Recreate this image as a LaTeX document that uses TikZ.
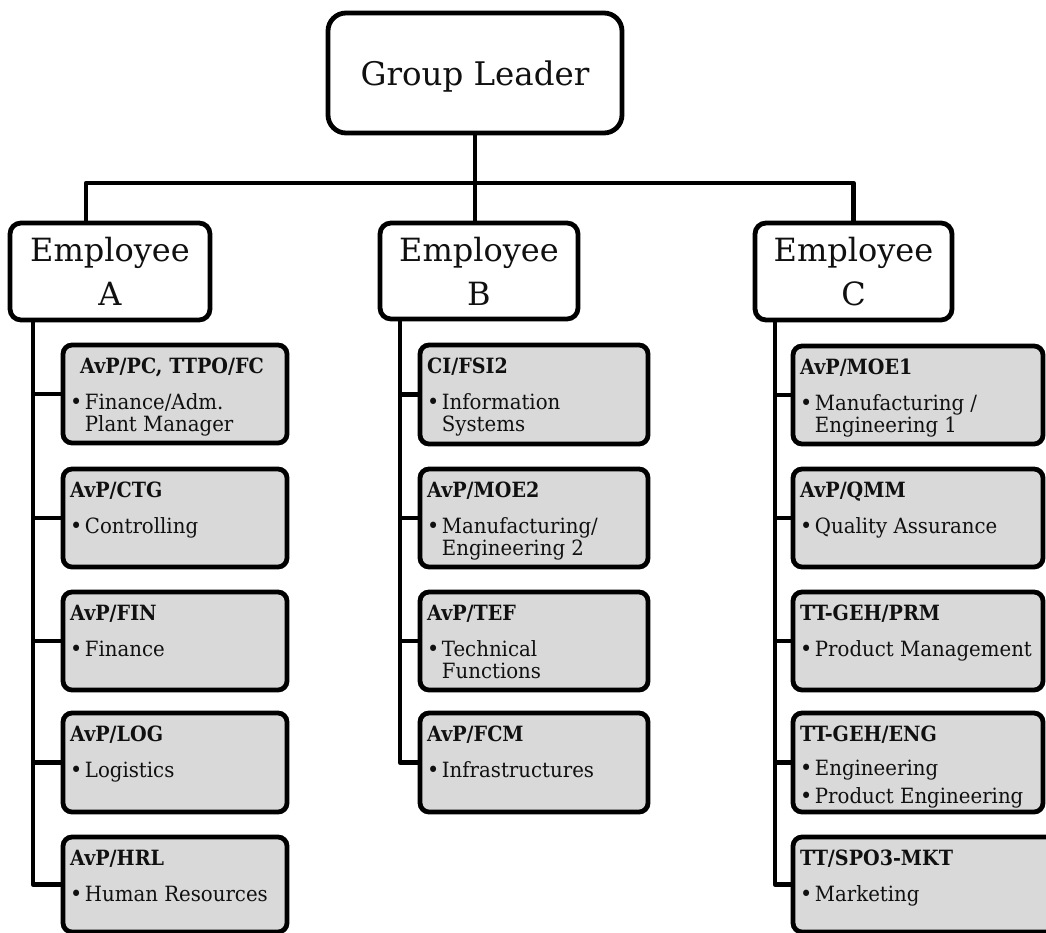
\documentclass[tikz,border=0pt]{standalone}
\usepackage{fontspec}
\setmainfont{DejaVu Serif}
\newfontfamily\unitfont[FakeStretch=0.94]{DejaVu Serif}
\newfontfamily\headfont[FakeStretch=0.91]{DejaVu Serif}
\definecolor{boxgray}{HTML}{D9D9D9}
\definecolor{ink}{HTML}{101010}
% bullet used in the unit boxes
\newcommand\bul{{\fontsize{22}{22}\selectfont\raisebox{-0.4pt}{•}}}
% one-line item and hanging two-line item
\newcommand\itemone[1]{\begin{tabular}[t]{@{}l@{\hspace{2.5pt}}l@{}}\bul & #1\end{tabular}}
\newcommand\itemtwo[2]{\begin{tabular}[t]{@{}l@{\hspace{2.5pt}}l@{}}\bul & #1\\ & #2\end{tabular}}
% a gray unit box: name, x, y, width, height, header, body
\newcommand\orgunit[7]{%
  \node[unitbox, minimum width=#4, minimum height=#5] (#1) at (#2,#3) {};
  \path (#1.north west) ++(7,28) node[hdr] (#1h) {#6};
  \path (#1.north west) ++(7,64) node[item] (#1t) {#7};
}
\begin{document}
\begin{tikzpicture}[x=1pt,y=-1pt,
  conn/.style={line width=4.8pt, line join=round},
  boxbase/.style={draw, line width=4.8pt, anchor=north west, inner sep=0pt, outer sep=0pt, text=ink},
  topbox/.style={boxbase, rounded corners=18pt, fill=white, font=\fontsize{32.5}{38}\selectfont, text depth=0pt},
  empbox/.style={boxbase, rounded corners=11pt, fill=white, align=center, font=\fontsize{32}{44}\selectfont},
  unitbox/.style={boxbase, rounded corners=9pt, fill=boxgray},
  hdr/.style={anchor=base west, inner sep=0pt, text=ink, font=\headfont\bfseries\fontsize{21}{22}\selectfont},
  item/.style={anchor=base west, inner sep=0pt, text=ink, font=\unitfont\fontsize{21}{22}\selectfont}
]
\useasboundingbox (0,0) rectangle (1046,933);

% top level
\node[topbox, minimum width=294, minimum height=120] (gl) at (328,13) {Group Leader};

% employees
\node[empbox, minimum width=200, minimum height=97] (ea) at (10,223) {Employee\\A};
\node[empbox, minimum width=198, minimum height=96] (eb) at (380,223) {Employee\\B};
\node[empbox, minimum width=197, minimum height=97] (ec) at (755,223) {Employee\\C};

% column A
\node[unitbox, minimum width=224, minimum height=98] (a1) at (63,345) {};
\path (a1.north west) ++(17,28) node[hdr] (a1h) {AvP/PC, TTPO/FC};
\path (a1.north west) ++(7,64) node[item] (a1t) {\itemtwo{Finance/Adm.}{Plant Manager}};
\orgunit{a2}{63}{469}{224}{98}{AvP/CTG}{\itemone{Controlling}}
\orgunit{a3}{63}{592}{224}{98}{AvP/FIN}{\itemone{Finance}}
\orgunit{a4}{63}{713}{224}{99}{AvP/LOG}{\itemone{Logistics}}
\orgunit{a5}{63}{837}{224}{95}{AvP/HRL}{\itemone{Human Resources}}

% column B
\orgunit{b1}{420}{345}{228}{99}{CI/FSI2}{\itemtwo{Information}{Systems}}
\orgunit{b2}{420}{469}{228}{98}{AvP/MOE2}{\itemtwo{Manufacturing/}{Engineering 2}}
\orgunit{b3}{420}{592}{228}{98}{AvP/TEF}{\itemtwo{Technical}{Functions}}
\orgunit{b4}{420}{713}{228}{99}{AvP/FCM}{\itemone{Infrastructures}}

% column C
\orgunit{c1}{793}{346}{250}{98}{AvP/MOE1}{\itemtwo{Manufacturing /}{Engineering 1}}
\orgunit{c2}{793}{469}{250}{98}{AvP/QMM}{\itemone{Quality Assurance}}
\orgunit{c3}{793}{592}{250}{98}{TT-GEH/PRM}{\itemone{Product Management}}
\node[unitbox, minimum width=250, minimum height=99] (c4) at (793,713) {};
\path (c4.north west) ++(7,28) node[hdr] (c4h) {TT-GEH/ENG};
\path (c4.north west) ++(7,62) node[item] (c4t) {\begin{tabular}[t]{@{}l@{\hspace{2.5pt}}l@{}}\bul & Engineering\\[6pt] \bul & Product Engineering\end{tabular}};
\orgunit{c5}{793}{837}{262}{95}{TT/SPO3-MKT}{\itemone{Marketing}}

% connectors from the group leader
\coordinate (dropa) at (86,183);
\draw[conn] (gl.south) -- (gl.south |- eb.north);
\draw[conn] (ea.north -| dropa) -- (dropa) -- (dropa -| ec.north) -- (ec.north);

% trunks and stubs
\coordinate (ta) at (33,0);
\coordinate (tb) at (400,0);
\coordinate (tc) at (775,0);
\draw[conn] (ea.south -| ta) |- (a5.west);
\foreach \n in {a1,a2,a3,a4} \draw[conn] (\n.west -| ta) -- (\n.west);
\draw[conn] (eb.south -| tb) |- (b4.west);
\foreach \n in {b1,b2,b3} \draw[conn] (\n.west -| tb) -- (\n.west);
\draw[conn] (ec.south -| tc) |- (c5.west);
\foreach \n in {c1,c2,c3,c4} \draw[conn] (\n.west -| tc) -- (\n.west);
\end{tikzpicture}
\end{document}
